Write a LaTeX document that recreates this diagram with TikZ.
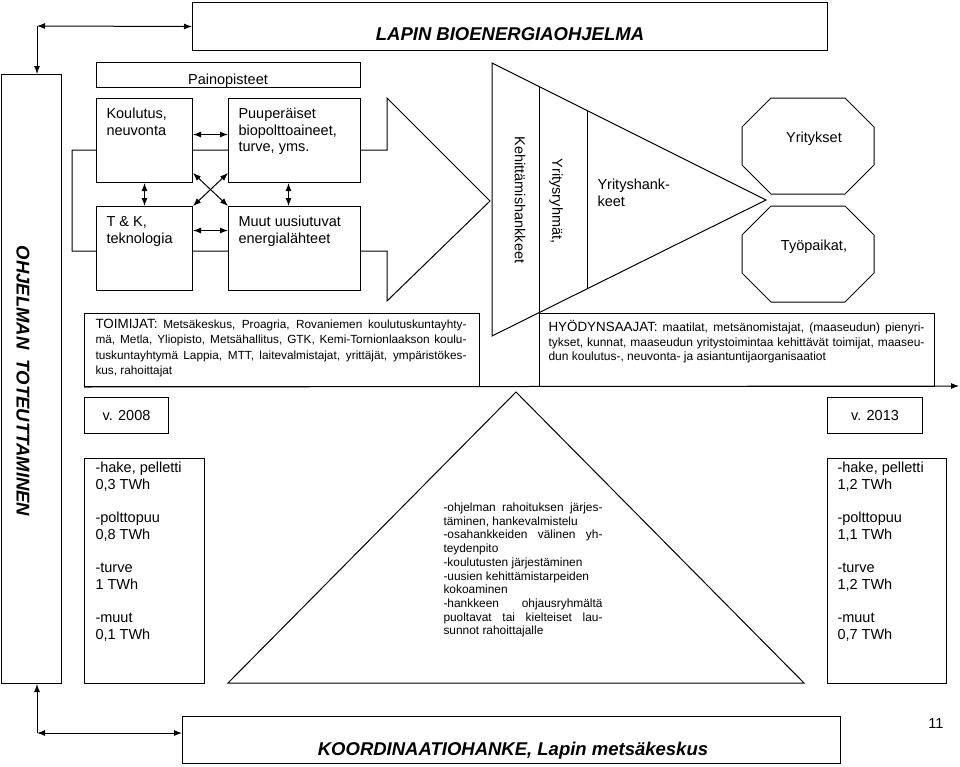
\documentclass[tikz,border=0pt]{standalone}
\usepackage{fontspec}
\setmainfont{Liberation Sans}
\usetikzlibrary{arrows.meta}
\newcommand{\fs}[2]{\fontsize{#1}{#2}\selectfont}
\newcommand{\jline}[2]{\makebox[#1][s]{#2}}
\tikzset{
  box/.style={draw, fill=white, anchor=north west, inner sep=0pt, font=\fs{14.5}{16.5}},
  txt/.style={inner sep=0pt, anchor=north west, align=left, font=\fs{14.5}{16.5}},
  ttl/.style={inner sep=0pt, font=\bfseries\itshape\fs{18.5}{22}},
  >={Latex[length=8pt,width=6pt]}
}
\begin{document}
\begin{tikzpicture}[x=1pt,y=-1pt,line width=1pt]
\useasboundingbox (0,0) rectangle (960,766);
\node[box, minimum width=635pt, minimum height=48pt] (title) at (192,2) {};
\node[ttl, anchor=base] (titletxt) at (510,40.5) {LAPIN BIOENERGIAOHJELMA};
\node[box, minimum width=60pt, minimum height=609pt] (ohj) at (0.5,74) {};
\node[ttl, rotate=-90] (ohjtxt) at (23,381) {OHJELMAN\ \ TOTEUTTAMINEN};
\coordinate (ylakulma) at (37,26);
\draw[<->] (ylakulma) -- (title.west);
\draw[->] (ylakulma) -- (ylakulma |- ohj.north);
\draw (72,150) -- (387,150) -- (387,98) -- (490,201) -- (387,301) -- (387,251) -- (72,251) -- cycle;
\node[txt, anchor=base] (painotxt) at (228,84) {Painopisteet};
\node[draw, anchor=north west, inner sep=0pt, minimum width=264pt, minimum height=25pt] (paino) at (96,62) {};
\node[box, minimum width=96pt, minimum height=84pt] (koul) at (96,98) {};
\node[box, minimum width=132pt, minimum height=84pt] (puu) at (228,98) {};
\node[box, minimum width=96pt, minimum height=84pt] (tk) at (96,206) {};
\node[box, minimum width=132pt, minimum height=84pt] (muut) at (228,206) {};
\node[txt] (koultxt) at (106,106.5) {\strut Koulutus,\\neuvonta};
\node[txt] (puutxt) at (238,106.5) {\strut Puuperäiset\\biopolttoaineet,\\turve, yms.};
\node[txt] (tktxt) at (106,214.5) {\strut T \& K,\\teknologia};
\node[txt] (muuttxt) at (238,214.5) {\strut Muut uusiutuvat\\energialähteet};
\draw[<->] ([yshift=6pt]koul.east) -- ([yshift=6pt]puu.west);
\draw[<->] ([yshift=18pt]tk.east) -- ([yshift=18pt]muut.west);
\draw[<->] (koul.south) -- (tk.north);
\draw[<->] ([xshift=-6pt]puu.south) -- ([xshift=-6pt]muut.north);
\draw[<->] ([yshift=10pt]koul.south east) -- (muut.north west);
\draw[<->] ([yshift=10pt]puu.south west) -- (tk.north east);
\draw (492,63) -- (766,200) -- (492,336) -- cycle;
\draw (539,86.5) -- (539,313);
\draw (587,110.5) -- (587,289);
\node[txt, anchor=center, rotate=-90] (kehtxt) at (520,200) {Kehittämishankkeet};
\node[txt, anchor=center, rotate=-90] (ryhtxt) at (556,201) {Yritysryhmät,};
\node[txt] (hanktxt) at (597,177.5) {\strut Yrityshank-\\keet};
\draw (771,98) -- (845,98) -- (874,127) -- (874,165) -- (845,194) -- (771,194) -- (742,165) -- (742,127) -- cycle;
\draw (771,206) -- (845,206) -- (874,235) -- (874,273) -- (845,302) -- (771,302) -- (742,273) -- (742,235) -- cycle;
\node[txt, anchor=base] (yrtxt) at (814,142) {Yritykset};
\node[txt, anchor=base] (tyotxt) at (814,250) {Työpaikat,};
\node[box, minimum width=395pt, minimum height=73pt] (toim) at (84,313) {};
\node[txt, font=\fs{11.8}{15.3}] (toimtxt) at (95,317.3) {\strut\jline{371pt}{{\fs{13.4}{15.3}TOIMIJAT:} Metsäkeskus, Proagria, Rovaniemen koulutuskuntayhty-}\\\jline{371pt}{mä, Metla, Yliopisto, Metsähallitus, GTK, Kemi-Tornionlaakson koulu-}\\\jline{371pt}{tuskuntayhtymä Lappia, MTT, laitevalmistajat, yrittäjät, ympäristökes-}\\kus, rahoittajat};
\node[box, minimum width=395pt, minimum height=73pt] (hyod) at (539,313) {};
\node[txt, font=\fs{12}{14.5}] (hyodtxt) at (548,319.9) {\strut\jline{376pt}{{\fs{13.4}{14.5}HYÖDYNSAAJAT:} maatilat, metsänomistajat, (maaseudun) pienyri-}\\\jline{376pt}{tykset, kunnat, maaseudun yritystoimintaa kehittävät toimijat, maaseu-}\\dun koulutus-, neuvonta- ja asiantuntijaorganisaatiot};
\coordinate (aikaend) at (959,386);
\draw[->] (toim.south west) -- (aikaend);
\node[box, minimum width=84pt, minimum height=36pt] (v08) at (84,397) {v. 2008};
\node[box, minimum width=95pt, minimum height=36pt] (v13) at (827,397) {v. 2013};
\node[box, minimum width=120pt, minimum height=225pt] (d08) at (84,458) {};
\node[box, minimum width=119pt, minimum height=225pt] (d13) at (827,458) {};
\node[txt, font=\fs{14.5}{16.7}] (d08txt) at (95,460.3) {\strut -hake, pelletti\\0,3 TWh\\[16.7pt]-polttopuu\\0,8 TWh\\[16.7pt]-turve\\1 TWh\\[16.7pt]-muut\\0,1 TWh};
\node[txt, font=\fs{14.5}{16.7}] (d13txt) at (837,460.3) {\strut -hake, pelletti\\1,2 TWh\\[16.7pt]-polttopuu\\1,1 TWh\\[16.7pt]-turve\\1,2 TWh\\[16.7pt]-muut\\0,7 TWh};
\draw (516,392) -- (804,683) -- (228,683) -- cycle;
\node[txt, font=\fs{11.9}{13.7}] (tehtxt) at (443,501.4) {\strut\jline{159pt}{-ohjelman rahoituksen järjes-}\\täminen, hankevalmistelu\\\jline{159pt}{-osahankkeiden välinen yh-}\\teydenpito\\-koulutusten järjestäminen\\-uusien kehittämistarpeiden\\kokoaminen\\\jline{159pt}{-hankkeen ohjausryhmältä}\\\jline{159pt}{puoltavat tai kielteiset lau-}\\sunnot rahoittajalle};
\node[box, minimum width=658pt, minimum height=47pt] (koord) at (182,716) {};
\node[ttl, anchor=base] (koordtxt) at (513,755) {KOORDINAATIOHANKE, Lapin metsäkeskus};
\coordinate (alakulma) at (37,733);
\draw[->] (alakulma) -- (alakulma |- ohj.south);
\draw[<->] (alakulma) -- (alakulma -| koord.west);
\node[txt, anchor=base] (sivu) at (936,728) {11};
\end{tikzpicture}
\end{document}
